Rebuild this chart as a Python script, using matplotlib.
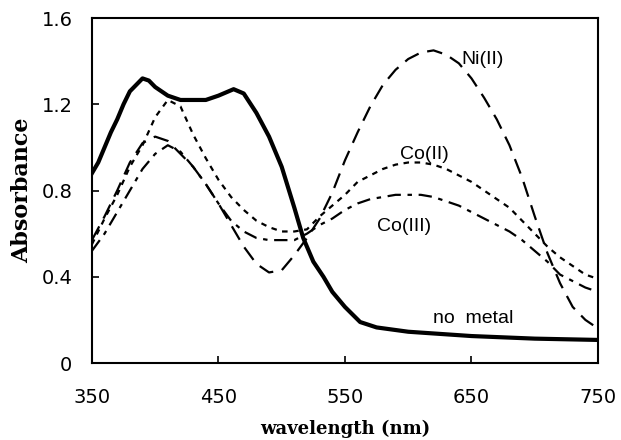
import matplotlib
matplotlib.use('Agg')
import matplotlib.pyplot as plt

# wavelength grid (nm)
wavelength = [350, 360, 370, 380, 390, 400, 410, 420, 430, 440,
              450, 460, 470, 480, 490, 500, 510, 520, 530, 540,
              550, 560, 570, 580, 590, 600, 610, 620, 630, 640,
              650, 660, 670, 680, 690, 700, 710, 720, 730, 740, 750]

noMetalWavelength = [350, 355, 360, 365, 370, 375, 380, 385, 390, 395,
                     400, 410, 420, 430, 440, 450, 462, 470, 480, 490,
                     500, 510, 517, 525, 533, 540, 550, 562, 575, 600,
                     650, 700, 750]
noMetal = [0.88, 0.93, 1.00, 1.07, 1.13, 1.20, 1.26, 1.29, 1.32, 1.31,
           1.28, 1.24, 1.22, 1.22, 1.22, 1.24, 1.27, 1.25, 1.16, 1.05,
           0.91, 0.72, 0.58, 0.47, 0.40, 0.33, 0.26, 0.19, 0.165, 0.145,
           0.125, 0.113, 0.107]

nickel = [0.57, 0.68, 0.80, 0.93, 1.02, 1.05, 1.03, 0.97, 0.91, 0.83,
          0.74, 0.64, 0.54, 0.46, 0.42, 0.43, 0.50, 0.58, 0.67, 0.79,
          0.94, 1.07, 1.19, 1.29, 1.36, 1.41, 1.44, 1.45, 1.43, 1.39,
          1.32, 1.23, 1.13, 1.01, 0.86, 0.68, 0.51, 0.37, 0.26, 0.20, 0.16]

cobalt2 = [0.55, 0.67, 0.78, 0.91, 1.01, 1.14, 1.22, 1.19, 1.06, 0.95,
           0.85, 0.77, 0.71, 0.66, 0.63, 0.61, 0.61, 0.62, 0.68, 0.73,
           0.78, 0.84, 0.87, 0.90, 0.92, 0.93, 0.93, 0.92, 0.90, 0.87,
           0.84, 0.80, 0.76, 0.72, 0.66, 0.60, 0.54, 0.49, 0.45, 0.41, 0.39]

cobalt3 = [0.52, 0.60, 0.70, 0.80, 0.90, 0.97, 1.01, 0.98, 0.91, 0.83,
           0.74, 0.66, 0.61, 0.58, 0.57, 0.57, 0.57, 0.60, 0.64, 0.67,
           0.71, 0.74, 0.76, 0.77, 0.78, 0.78, 0.78, 0.77, 0.75, 0.73,
           0.70, 0.67, 0.64, 0.61, 0.57, 0.52, 0.47, 0.41, 0.38, 0.35, 0.33]

xTicks = [350, 450, 550, 650, 750]
yTicks = [0, 0.4, 0.8, 1.2, 1.6]
yTickLabels = ['0', '0.4', '0.8', '1.2', '1.6']


def main():
    fig = plt.figure(figsize=(6.21, 4.40), dpi=100)
    ax = fig.add_axes([0.148, 0.175, 0.815, 0.784])

    ax.plot(noMetalWavelength, noMetal, color='black', linewidth=3.0)
    ax.plot(wavelength, nickel, color='black', linewidth=1.6, dashes=(7, 4))
    ax.plot(wavelength, cobalt2, color='black', linewidth=1.6, dashes=(2.5, 2.5))
    ax.plot(wavelength, cobalt3, color='black', linewidth=1.6, dashes=(6, 3, 2, 3))

    textFont = dict(family='Liberation Sans', fontsize=14, ha='center', va='center')
    ax.text(659, 1.41, 'Ni(II)', **textFont)
    ax.text(613, 0.965, 'Co(II)', **textFont)
    ax.text(597, 0.635, 'Co(III)', **textFont)
    ax.text(651, 0.205, 'no  metal', **textFont)

    ax.set_xlim(350, 750)
    ax.set_ylim(0, 1.6)
    ax.set_xticks(xTicks)
    ax.set_yticks(yTicks)
    ax.set_yticklabels(yTickLabels)

    for label in ax.get_xticklabels() + ax.get_yticklabels():
        label.set_family('DejaVu Sans')
        label.set_fontsize(14)

    ax.tick_params(direction='in', length=5, width=1.2)
    ax.tick_params(axis='x', pad=18)
    ax.tick_params(axis='y', pad=14)
    for spine in ax.spines.values():
        spine.set_linewidth(1.5)

    ax.set_xlabel('wavelength (nm)', family='DejaVu Serif',
                  fontweight='bold', fontsize=13, labelpad=9)
    ax.set_ylabel('Absorbance', family='DejaVu Serif',
                  fontweight='bold', fontsize=16, labelpad=6)

    fig.savefig('out.png', dpi=100)


if __name__ == '__main__':
    main()
